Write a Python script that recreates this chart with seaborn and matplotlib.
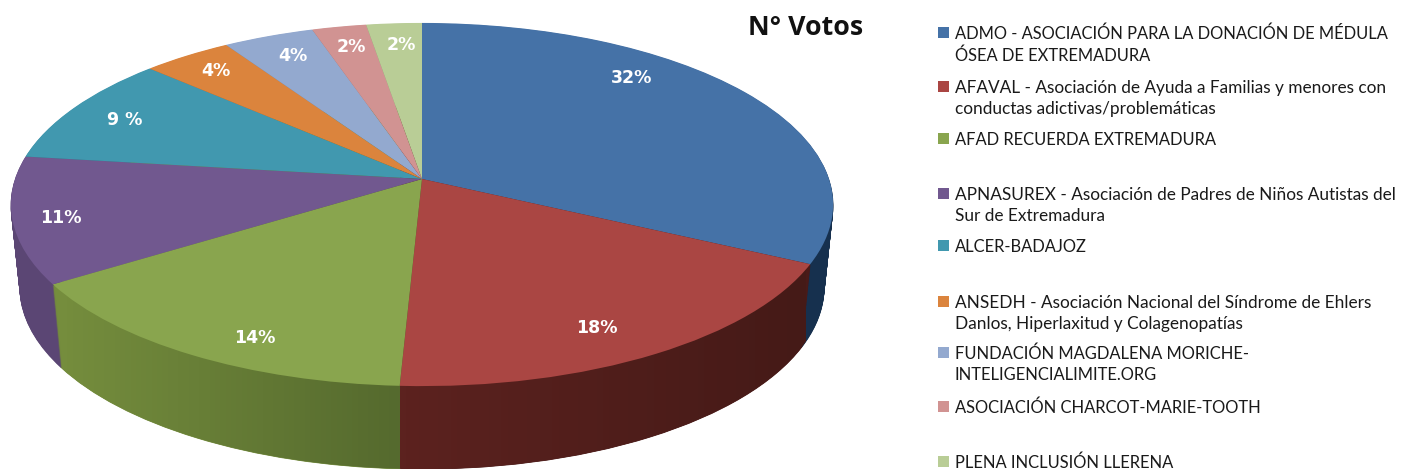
import matplotlib
matplotlib.use("Agg")
import matplotlib.pyplot as plt
import numpy as np
import seaborn as sns
from matplotlib.colors import to_rgb
from matplotlib.patches import Rectangle
from matplotlib.transforms import Transform

# shares (the printed labels are rounded)
vote_share = [32.4, 18.35, 15.05, 11.25, 9.85, 4.05, 4.1, 2.45, 2.5]
pct_labels = ["32%", "18%", "14%", "11%", "9 %", "4%", "4%", "2%", "2%"]
associations = [
    "ADMO - ASOCIACIÓN PARA LA DONACIÓN DE MÉDULA\nÓSEA DE EXTREMADURA",
    "AFAVAL - Asociación de Ayuda a Familias y menores con\nconductas adictivas/problemáticas",
    "AFAD RECUERDA EXTREMADURA",
    "APNASUREX - Asociación de Padres de Niños Autistas del\nSur de Extremadura",
    "ALCER-BADAJOZ",
    "ANSEDH - Asociación Nacional del Síndrome de Ehlers\nDanlos, Hiperlaxitud y Colagenopatías",
    "FUNDACIÓN MAGDALENA MORICHE-\nINTELIGENCIALIMITE.ORG",
    "ASOCIACIÓN CHARCOT-MARIE-TOOTH",
    "PLENA INCLUSIÓN LLERENA",
]

top_colors = ["#4572A7", "#AA4643", "#89A54E", "#71588F", "#4198AF",
              "#DB843D", "#93A9CF", "#D19392", "#B9CD96"]
side_colors = ["#16304E", "#4A1A18", "#758D3D", "#5B4674", "#2F7080",
               "#A8642C", "#6F809E", "#9E6F6E", "#8C9C71"]

# where the labels and legend rows sit, in pixels of the 1402x469 canvas
label_xy = [(632, 78), (597, 328), (255, 338), (61, 218), (125, 120),
            (216, 71), (293, 56), (351, 47), (401, 45)]
legend_y = [33, 87, 139, 194, 246, 302, 353, 407, 462]
DEPTH = 83


class Tilt(Transform):
    """Perspective view of the unit pie, output in canvas pixels."""
    input_dims = output_dims = 2
    is_separable = False
    has_inverse = False

    def __init__(self, drop=0.0):
        super().__init__()
        self.drop = drop

    def transform_non_affine(self, xy):
        xy = np.asarray(xy, dtype=float)
        w = 1 + 0.1405 * xy[:, 1]
        narrow = 1 - 0.022 * self.drop / DEPTH
        return np.column_stack([422 + 407 * narrow * xy[:, 0] / w,
                                179 + self.drop - 178 * xy[:, 1] / w])


sns.set_theme(style="white")
plt.rcParams["font.family"] = ["Lato", "DejaVu Sans"]

fig = plt.figure(figsize=(14.02, 4.69), dpi=100)
ax = fig.add_axes([0, 0, 1, 1])


def draw_pie(colors, drop, edge, zorder=1):
    wedges, _ = ax.pie(vote_share, colors=colors, startangle=90, counterclock=False,
                       wedgeprops={"edgecolor": edge, "linewidth": 0.6 if edge else 0,
                                   "zorder": zorder})
    for w, c in zip(wedges, colors):
        w.set_transform(Tilt(drop) + ax.transData)
        if edge:
            w.set_edgecolor(c)
    return wedges


# side wall is a stack of darker pies, lowest first
for drop in range(DEPTH, 0, -1):
    draw_pie(side_colors, drop, "k")

# left to right shading on the two big wall pieces
floor, _ = ax.pie([1], colors=["none"], wedgeprops={"linewidth": 0})
floor[0].set_transform(Tilt(DEPTH) + ax.transData)


def shade_wall(x0, x1, c0, c1):
    ramp = np.linspace(to_rgb(c0), to_rgb(c1), 64)[np.newaxis, :, :]
    img = ax.imshow(ramp, extent=(x0, x1, 469, 0), aspect="auto", zorder=1.2)
    img.set_clip_path(floor[0])


shade_wall(62, 400, "#758D3D", "#556A2E")
shade_wall(400, 806, "#5C221F", "#451A17")

draw_pie(top_colors, 0, None, zorder=1.5)

ax.set_aspect("auto")
ax.set_xlim(0, 1402)
ax.set_ylim(469, 0)
ax.axis("off")

for text, (x, y) in zip(pct_labels, label_xy):
    ax.text(x, y, text, color="white", fontsize=12.5, fontweight="bold",
            family="DejaVu Sans", ha="center", va="center")

ax.text(806, 28, "N° Votos", fontsize=19.3, fontweight="bold", color="#111111",
        family="Open Sans", ha="center", va="center")

for name, color, y in zip(associations, top_colors, legend_y):
    ax.add_patch(Rectangle((938, y - 5.5), 11, 10.5, facecolor=color, edgecolor="none"))
    for i, line in enumerate(name.split("\n")):
        # Lato runs wider in capitals than the original face, so size them apart
        size = 11.9 if line.isupper() else 12.45
        ax.text(955, y + 1 + i * 21.3, line, fontsize=size, color="#1a1a1a",
                ha="left", va="center")

plt.savefig("out.png", dpi=100)
